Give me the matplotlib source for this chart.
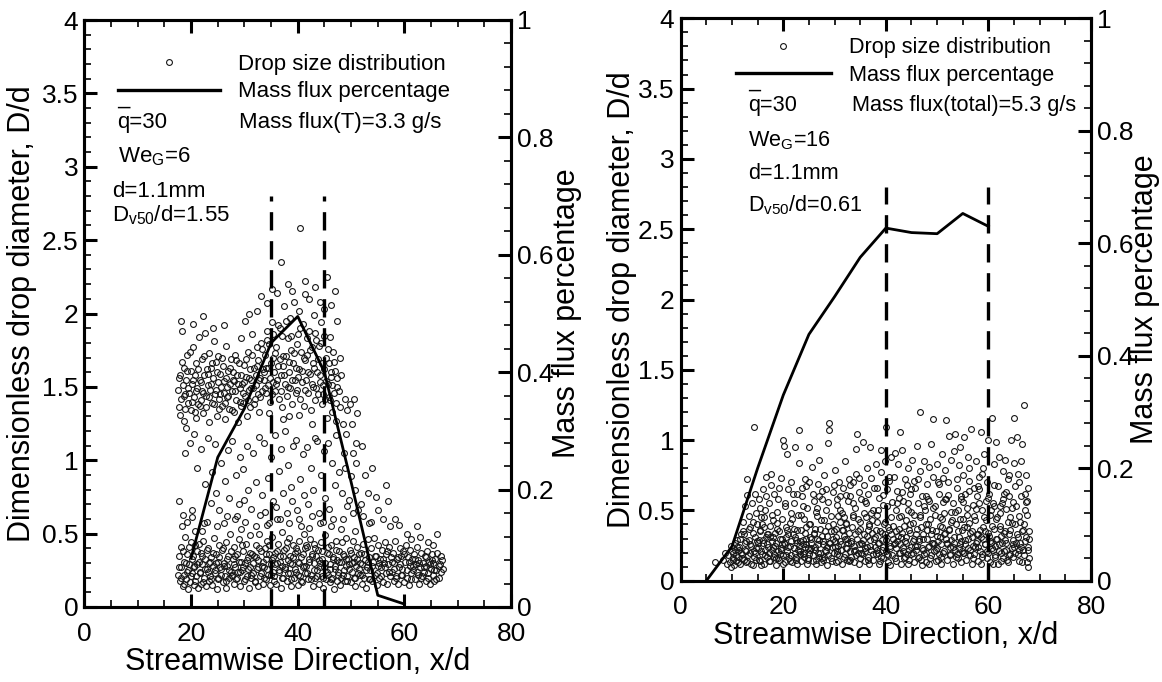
import numpy as np
import matplotlib.pyplot as plt
from matplotlib.lines import Line2D
from matplotlib.ticker import MultipleLocator, FuncFormatter
from matplotlib.transforms import blended_transform_factory

plt.rcParams['font.family'] = ['Liberation Sans', 'DejaVu Sans']
plt.rcParams['mathtext.fontset'] = 'custom'
plt.rcParams['mathtext.rm'] = 'Liberation Sans'
plt.rcParams['mathtext.it'] = 'Liberation Sans'
plt.rcParams['mathtext.bf'] = 'Liberation Sans:bold'

# Mass flux percentage (right axis)
left_flux_x = [20, 25, 30, 35, 40, 45, 50, 55, 60]
left_flux_p = [0.083, 0.255, 0.338, 0.45, 0.495, 0.40, 0.213, 0.02, 0.005]
right_flux_x = [5, 10, 15, 20, 25, 30, 35, 40, 45, 50, 55, 60]
right_flux_p = [0.0, 0.061, 0.20, 0.33, 0.438, 0.505, 0.575, 0.627, 0.619, 0.617, 0.653, 0.63]

# dashed markers of the measurement window
left_dash_x = [35, 45]
right_dash_x = [40, 60]
dash_top = 2.8

left_info = ['q=30', 'We$_{\\mathrm{G}}$=6', 'd=1.1mm', 'D$_{\\mathrm{v50}}$/d=1.55']
right_info = ['q=30', 'We$_{\\mathrm{G}}$=16', 'd=1.1mm', 'D$_{\\mathrm{v50}}$/d=0.61']
left_total = 'Mass flux(T)=3.3 g/s'
right_total = 'Mass flux(total)=5.3 g/s'
legend_labels = ['Drop size distribution', 'Mass flux percentage']

# Drop size distribution (x/d, D/d)
left_drops = [
    (17.6,1.48),(17.8,1.36),(18.0,1.58),(18.1,1.42),(18.3,1.88),(18.4,1.51),(18.6,1.27),(18.7,1.63),(18.9,1.45),(19.1,1.55),(19.2,1.72),(19.4,1.39),(18.2,1.95),(19.0,1.22),
    (17.7,0.72),(18.5,0.63),(19.3,0.58),(18.8,1.05),
    (17.6,0.22),(17.8,0.35),(17.9,0.18),(18.1,0.41),(18.2,0.27),(18.4,0.14),(18.6,0.31),(18.7,0.22),(18.9,0.48),(19.0,0.19),(19.2,0.36),(19.4,0.25),(19.5,0.12),(18.3,0.55),
    (19.7,1.46),(19.9,1.61),(20.0,1.34),(20.2,1.52),(20.4,1.77),(20.5,1.43),(20.7,1.58),(20.9,1.29),(21.0,1.66),(21.2,1.49),(21.4,1.84),(20.3,1.93),(21.3,1.38),
    (19.8,1.12),(20.6,1.18),(21.1,0.95),(20.1,0.66),
    (19.6,0.29),(19.8,0.17),(20.0,0.44),(20.1,0.23),(20.3,0.35),(20.5,0.15),(20.6,0.28),(20.8,0.52),(21.0,0.21),(21.1,0.38),(21.3,0.13),(21.4,0.31),(20.7,0.42),(20.2,0.61),
    (21.6,1.55),(21.8,1.41),(22.0,1.69),(22.1,1.47),(22.3,1.32),(22.5,1.58),(22.6,1.87),(22.8,1.44),(23.0,1.62),(23.1,1.51),(23.3,1.26),(23.4,1.73),(22.2,1.98),
    (21.9,1.08),(22.7,0.84),(23.2,1.15),(22.4,0.57),
    (21.6,0.24),(21.8,0.37),(21.9,0.16),(22.1,0.29),(22.3,0.45),(22.4,0.20),(22.6,0.33),(22.8,0.14),(22.9,0.26),(23.1,0.40),(23.3,0.18),(23.4,0.30),(22.0,0.52),(23.0,0.58),
    (23.6,1.48),(23.8,1.63),(24.0,1.39),(24.1,1.56),(24.3,1.81),(24.5,1.45),(24.6,1.67),(24.8,1.30),(25.0,1.53),(25.1,1.71),(25.3,1.42),(25.4,1.59),(24.2,1.90),
    (23.9,0.92),(24.7,0.78),(25.2,0.66),(24.4,1.11),(23.7,0.71),
    (23.6,0.21),(23.8,0.34),(24.0,0.15),(24.1,0.28),(24.3,0.47),(24.5,0.23),(24.6,0.36),(24.8,0.12),(25.0,0.31),(25.1,0.19),(25.3,0.42),(25.4,0.27),(24.9,0.55),
    (25.6,1.50),(25.8,1.37),(26.0,1.64),(26.1,1.46),(26.3,1.28),(26.5,1.56),(26.6,1.78),(26.8,1.43),(27.0,1.61),(27.1,1.35),(27.3,1.52),(27.4,1.69),(26.2,1.92),
    (25.7,0.98),(26.4,0.86),(26.9,1.07),(27.2,0.74),(26.7,0.62),
    (25.6,0.26),(25.8,0.39),(25.9,0.17),(26.1,0.30),(26.3,0.21),(26.5,0.44),(26.6,0.13),(26.8,0.28),(27.0,0.35),(27.1,0.20),(27.3,0.50),(27.4,0.24),(26.2,0.57),
    (27.6,1.47),(27.8,1.60),(28.0,1.33),(28.1,1.54),(28.3,1.72),(28.5,1.41),(28.6,1.58),(28.8,1.26),(29.0,1.66),(29.1,1.49),(29.3,1.83),(29.4,1.37),
    (27.7,1.13),(28.4,0.90),(28.9,0.70),(29.2,1.02),(28.2,0.60),
    (27.6,0.22),(27.8,0.33),(28.0,0.16),(28.1,0.41),(28.3,0.27),(28.5,0.19),(28.6,0.36),(28.8,0.24),(29.0,0.46),(29.1,0.14),(29.3,0.31),(29.4,0.53),(28.7,0.62),
    (29.6,1.52),(29.8,1.39),(30.0,1.65),(30.1,1.44),(30.3,1.57),(30.5,1.30),(30.6,1.74),(30.8,1.48),(31.0,1.62),(31.1,1.36),(31.3,1.55),(31.4,1.86),(30.2,1.95),(30.9,2.00),
    (29.7,0.94),(30.4,1.10),(30.7,0.80),(31.2,0.67),(29.9,0.73),
    (29.6,0.25),(29.8,0.38),(30.0,0.18),(30.1,0.30),(30.3,0.43),(30.5,0.21),(30.6,0.34),(30.8,0.13),(31.0,0.27),(31.1,0.49),(31.3,0.20),(31.4,0.36),(30.2,0.58),
    (31.6,1.49),(31.8,1.63),(32.0,1.42),(32.1,1.58),(32.3,1.77),(32.5,1.45),(32.6,1.68),(32.8,1.33),(33.0,1.56),(33.1,1.80),(33.3,1.47),(33.4,1.62),(32.4,2.02),(33.2,2.12),
    (31.7,1.05),(32.2,0.85),(32.7,1.16),(33.3,0.76),(32.9,0.63),
    (31.6,0.23),(31.8,0.35),(32.0,0.17),(32.1,0.42),(32.3,0.26),(32.5,0.14),(32.6,0.32),(32.8,0.50),(33.0,0.21),(33.1,0.38),(33.3,0.28),(33.4,0.16),(32.2,0.55),
    (33.6,1.55),(33.8,1.72),(34.0,1.46),(34.1,1.63),(34.3,1.88),(34.5,1.51),(34.6,1.79),(34.8,1.40),(35.0,1.66),(35.1,1.94),(35.3,1.53),(35.4,1.70),(34.2,2.07),(35.2,2.17),(34.7,1.32),
    (33.7,1.12),(34.4,0.88),(34.9,1.02),(35.3,0.72),(33.9,0.65),(34.7,0.57),
    (33.6,0.27),(33.8,0.40),(34.0,0.19),(34.1,0.33),(34.3,0.45),(34.5,0.22),(34.6,0.36),(34.8,0.15),(35.0,0.29),(35.1,0.48),(35.3,0.24),(35.4,0.34),(34.2,0.56),
    (35.6,1.60),(35.8,1.47),(36.0,1.77),(36.1,1.55),(36.3,1.92),(36.5,1.42),(36.6,1.69),(36.8,1.58),(37.0,1.85),(37.1,1.36),(37.3,1.64),(37.4,2.05),(36.2,2.14),(36.9,2.35),(37.2,1.28),
    (35.7,1.17),(36.4,0.93),(36.9,1.08),(37.2,0.78),(35.9,0.68),(36.7,0.60),
    (35.6,0.21),(35.8,0.37),(36.0,0.16),(36.1,0.30),(36.3,0.43),(36.5,0.25),(36.6,0.35),(36.8,0.13),(37.0,0.28),(37.1,0.51),(37.3,0.20),(37.4,0.39),(36.2,0.60),
    (37.6,1.52),(37.8,1.71),(38.0,1.44),(38.1,1.83),(38.3,1.60),(38.5,1.97),(38.6,1.49),(38.8,1.75),(39.0,1.38),(39.1,1.66),(39.3,2.08),(39.4,1.55),(38.2,2.20),(38.9,2.15),(38.4,1.30),
    (37.7,1.20),(38.2,0.97),(38.7,0.82),(39.2,1.10),(37.9,0.64),(39.0,0.72),
    (37.6,0.26),(37.8,0.40),(38.0,0.18),(38.1,0.32),(38.3,0.47),(38.5,0.23),(38.6,0.35),(38.8,0.14),(39.0,0.29),(39.1,0.42),(39.3,0.20),(39.4,0.37),(38.4,0.57),
    (39.6,1.63),(39.8,1.48),(40.0,1.86),(40.1,1.57),(40.3,2.02),(40.5,1.42),(40.6,1.74),(40.8,1.61),(41.0,1.93),(41.1,1.37),(41.3,1.68),(41.4,2.13),(40.5,2.58),(41.3,2.22),(40.2,1.31),
    (39.7,1.14),(40.4,0.87),(40.9,1.04),(41.2,0.76),(39.9,0.66),(40.7,0.55),
    (39.6,0.24),(39.8,0.38),(40.0,0.15),(40.1,0.31),(40.3,0.45),(40.5,0.21),(40.6,0.34),(40.8,0.17),(41.0,0.27),(41.1,0.50),(41.3,0.23),(41.4,0.40),(40.2,0.60),
    (41.6,1.55),(41.8,1.72),(42.0,1.46),(42.1,1.88),(42.3,1.59),(42.5,1.34),(42.6,1.77),(42.8,1.50),(43.0,1.99),(43.1,1.63),(43.3,1.41),(43.4,1.82),(42.2,2.10),(43.2,2.18),(42.7,1.25),
    (41.7,1.09),(42.4,0.95),(42.9,0.80),(43.3,1.15),(41.9,0.70),(42.6,0.62),
    (41.6,0.28),(41.8,0.41),(42.0,0.19),(42.1,0.33),(42.3,0.46),(42.5,0.22),(42.6,0.36),(42.8,0.14),(43.0,0.30),(43.1,0.43),(43.3,0.20),(43.4,0.35),(42.2,0.54),
    (43.6,1.60),(43.8,1.45),(44.0,1.78),(44.1,1.53),(44.3,1.94),(44.5,1.38),(44.6,1.66),(44.8,1.51),(45.0,1.85),(45.1,1.42),(45.3,1.70),(45.4,1.29),(44.2,2.08),(45.5,2.25),(44.9,2.03),
    (43.7,1.13),(44.4,0.90),(44.9,1.06),(45.2,0.74),(43.9,0.64),(44.7,0.58),
    (43.6,0.25),(43.8,0.39),(44.0,0.16),(44.1,0.30),(44.3,0.44),(44.5,0.21),(44.6,0.33),(44.8,0.13),(45.0,0.27),(45.1,0.49),(45.3,0.19),(45.4,0.37),(44.2,0.57),
    (45.6,1.52),(45.8,1.66),(46.0,1.41),(46.1,1.84),(46.3,1.57),(46.5,1.33),(46.6,1.74),(46.8,1.46),(47.0,1.61),(47.1,1.27),(47.3,1.50),(47.4,1.95),(46.2,2.06),(46.9,2.15),
    (45.7,1.12),(46.4,0.98),(46.9,0.83),(47.2,1.17),(45.9,0.67),(46.7,0.60),
    (45.6,0.22),(45.8,0.36),(46.0,0.17),(46.1,0.29),(46.3,0.42),(46.5,0.20),(46.6,0.34),(46.8,0.12),(47.0,0.26),(47.1,0.45),(47.3,0.18),(47.4,0.32),(46.2,0.55),
    (47.7,1.47),(47.9,1.36),(48.2,1.58),(48.5,1.25),(48.8,1.42),(49.1,1.18),(49.3,1.34),(48.0,1.70),(48.6,1.05),
    (47.8,0.92),(48.3,0.78),(48.9,0.95),(49.2,0.69),(48.4,0.60),
    (47.6,0.24),(47.8,0.38),(48.0,0.15),(48.1,0.31),(48.3,0.44),(48.5,0.22),(48.6,0.35),(48.8,0.18),(49.0,0.28),(49.1,0.47),(49.3,0.21),(49.4,0.33),(48.2,0.53),
    (49.8,1.38),(50.2,1.25),(50.5,1.42),(50.9,1.12),(51.2,1.32),(50.4,1.05),(51.0,0.98),(50.0,0.89),
    (49.7,0.73),(50.3,0.64),(50.8,0.80),(51.3,0.66),
    (49.6,0.26),(49.8,0.39),(50.0,0.17),(50.1,0.30),(50.3,0.45),(50.5,0.20),(50.6,0.34),(50.8,0.14),(51.0,0.28),(51.1,0.41),(51.3,0.23),(51.4,0.36),(50.7,0.52),
    (52.0,1.10),(52.6,0.90),(53.1,0.78),(52.3,0.62),(51.8,0.70),(53.3,0.57),
    (51.6,0.22),(51.8,0.37),(52.0,0.16),(52.1,0.29),(52.3,0.43),(52.5,0.20),(52.6,0.32),(52.8,0.13),(53.0,0.27),(53.1,0.46),(53.3,0.19),(53.4,0.34),
    (54.0,0.95),(54.6,0.75),(55.1,0.66),(53.8,0.58),
    (53.6,0.25),(53.8,0.40),(54.0,0.18),(54.1,0.31),(54.3,0.47),(54.5,0.22),(54.6,0.35),(54.8,0.15),(55.0,0.28),(55.1,0.42),(55.3,0.20),(55.4,0.33),
    (56.5,0.83),(57.0,0.72),(56.0,0.60),(57.3,0.55),
    (55.6,0.27),(55.8,0.39),(56.0,0.17),(56.1,0.30),(56.3,0.44),(56.5,0.23),(56.6,0.36),(56.8,0.16),(57.0,0.29),(57.1,0.41),(57.3,0.21),(57.4,0.34),
    (58.2,0.60),(59.0,0.56),
    (57.6,0.24),(57.8,0.37),(58.0,0.18),(58.1,0.30),(58.3,0.45),(58.5,0.21),(58.6,0.33),(58.8,0.16),(59.0,0.27),(59.1,0.40),(59.3,0.22),(59.4,0.35),
    (60.5,0.50),(61.2,0.46),
    (59.6,0.26),(59.8,0.38),(60.0,0.17),(60.1,0.31),(60.3,0.42),(60.5,0.20),(60.6,0.34),(60.8,0.15),(61.0,0.28),(61.1,0.39),(61.3,0.23),(61.4,0.33),
    (62.4,0.55),(63.0,0.48),
    (61.6,0.25),(61.8,0.36),(62.0,0.19),(62.1,0.29),(62.3,0.41),(62.5,0.22),(62.6,0.32),(62.8,0.16),(63.0,0.27),(63.1,0.37),(63.3,0.21),(63.4,0.30),
    (64.5,0.44),(66.2,0.50),(65.3,0.42),
    (63.6,0.24),(63.8,0.35),(64.0,0.18),(64.1,0.28),(64.3,0.38),(64.5,0.20),(64.6,0.31),(64.8,0.16),(65.0,0.26),(65.1,0.36),(65.3,0.22),(65.4,0.30),
    (65.6,0.18),(65.8,0.33),(66.0,0.25),(66.2,0.37),(66.4,0.20),(66.6,0.29),(66.8,0.24),(67.0,0.32),
]

# extra drops in the dense upper and lower bands of the left panel
left_drops_dense = [
    (17.7,1.56),(18.0,1.31),(18.3,1.67),(18.6,1.44),(18.9,1.35),(19.2,1.61),(19.5,1.49),(19.8,1.74),(20.1,1.40),(20.4,1.55),
    (20.7,1.33),(21.0,1.47),(21.3,1.62),(21.6,1.37),(21.9,1.53),(22.2,1.46),(22.5,1.71),(22.8,1.36),(23.1,1.59),(23.4,1.43),
    (23.7,1.52),(24.0,1.66),(24.3,1.38),(24.6,1.48),(24.9,1.60),(25.2,1.35),(25.5,1.45),(25.8,1.70),(26.1,1.54),(26.4,1.39),
    (26.7,1.50),(27.0,1.44),(27.3,1.63),(27.6,1.34),(27.9,1.55),(28.2,1.47),(28.5,1.68),(28.8,1.52),(29.1,1.40),(29.4,1.58),
    (29.7,1.46),(30.0,1.53),(30.3,1.69),(30.6,1.41),(30.9,1.56),(31.2,1.49),(31.5,1.72),(31.8,1.38),(32.1,1.51),(32.4,1.64),
    (32.7,1.55),(33.0,1.43),(33.3,1.76),(33.6,1.60),(33.9,1.49),(34.2,1.82),(34.5,1.63),(34.8,1.56),(35.1,1.45),(35.4,1.86),
    (35.7,1.73),(36.0,1.52),(36.3,1.64),(36.6,1.90),(36.9,1.47),(37.2,1.71),(37.5,1.58),(37.8,1.95),(38.1,1.50),(38.4,1.67),
    (38.7,1.85),(39.0,1.55),(39.3,1.73),(39.6,1.46),(39.9,1.79),(40.2,1.62),(40.5,1.90),(40.8,1.53),(41.1,1.70),(41.4,1.48),
    (41.7,1.83),(42.0,1.60),(42.3,1.75),(42.6,1.52),(42.9,1.66),(43.2,1.87),(43.5,1.49),(43.8,1.69),(44.1,1.58),(44.4,1.80),
    (44.7,1.45),(45.0,1.62),(45.3,1.54),(45.6,1.76),(45.9,1.43),(46.2,1.60),(46.5,1.51),(46.8,1.67),(47.1,1.39),(47.4,1.56),
    (17.8,0.27),(18.1,0.20),(18.4,0.38),(18.7,0.16),(19.0,0.30),(19.3,0.24),(19.6,0.41),(19.9,0.21),(20.2,0.33),(20.5,0.27),
    (20.8,0.18),(21.1,0.29),(21.4,0.43),(21.7,0.23),(22.0,0.35),(22.3,0.17),(22.6,0.26),(22.9,0.39),(23.2,0.24),(23.5,0.31),
    (23.8,0.19),(24.1,0.37),(24.4,0.25),(24.7,0.30),(25.0,0.20),(25.3,0.34),(25.6,0.22),(25.9,0.40),(26.2,0.28),(26.5,0.18),
    (26.8,0.33),(27.1,0.25),(27.4,0.38),(27.7,0.21),(28.0,0.29),(28.3,0.35),(28.6,0.20),(28.9,0.31),(29.2,0.24),(29.5,0.42),
    (29.8,0.27),(30.1,0.19),(30.4,0.32),(30.7,0.26),(31.0,0.37),(31.3,0.22),(31.6,0.30),(31.9,0.18),(32.2,0.34),(32.5,0.27),
    (32.8,0.40),(33.1,0.23),(33.4,0.31),(33.7,0.20),(34.0,0.36),(34.3,0.26),(34.6,0.42),(34.9,0.22),(35.2,0.32),(35.5,0.18),
    (35.8,0.29),(36.1,0.38),(36.4,0.24),(36.7,0.31),(37.0,0.20),(37.3,0.35),(37.6,0.27),(37.9,0.44),(38.2,0.23),(38.5,0.30),
    (38.8,0.19),(39.1,0.34),(39.4,0.26),(39.7,0.40),(40.0,0.22),(40.3,0.30),(40.6,0.18),(40.9,0.36),(41.2,0.28),(41.5,0.42),
    (41.8,0.23),(42.1,0.31),(42.4,0.19),(42.7,0.35),(43.0,0.25),(43.3,0.40),(43.6,0.21),(43.9,0.32),(44.2,0.27),(44.5,0.38),
    (44.8,0.20),(45.1,0.30),(45.4,0.24),(45.7,0.41),(46.0,0.26),(46.3,0.19),(46.6,0.33),(46.9,0.28),(47.2,0.39),(47.5,0.22),
    (47.8,0.31),(48.1,0.20),(48.4,0.36),(48.7,0.25),(49.0,0.33),(49.3,0.18),(49.6,0.29),(49.9,0.37),(50.2,0.24),(50.5,0.31),
    (50.8,0.20),(51.1,0.33),(51.4,0.26),(51.7,0.30),(52.0,0.22),(52.4,0.36),(52.8,0.25),(53.2,0.31),(53.6,0.19),(54.0,0.28),
    (54.4,0.35),(54.8,0.23),(55.2,0.30),(55.6,0.21),(56.0,0.33),(56.4,0.27),(56.8,0.38),(57.2,0.24),(57.6,0.31),(58.0,0.26),
    (58.4,0.20),(58.8,0.34),(59.2,0.29),(59.6,0.22),(60.0,0.36),(60.4,0.25),(60.8,0.31),(61.2,0.19),(61.6,0.28),(62.0,0.33),
    (62.4,0.24),(62.8,0.30),(63.2,0.20),(63.6,0.27),(64.0,0.34),(64.4,0.23),(64.8,0.29),(65.2,0.32),(65.6,0.25),(66.0,0.19),
    (66.4,0.28),(66.8,0.35),(67.2,0.26),
]

right_drops = [
    (6.6,0.13),(8.7,0.20),(8.2,0.15),(9.0,0.12),
    (9.3,0.18),(9.6,0.13),(9.8,0.25),(10.1,0.16),(10.3,0.11),(10.5,0.22),(10.8,0.14),(10.2,0.20),(10.9,0.29),(9.9,0.10),
    (11.1,0.17),(11.3,0.24),(11.5,0.12),(11.7,0.33),(11.9,0.19),(12.1,0.42),(12.3,0.15),(12.5,0.53),(12.6,0.27),(12.8,0.13),(12.9,0.61),(11.4,0.22),(12.2,0.35),(12.7,0.21),
    (13.0,0.72),(13.2,0.18),(13.4,0.46),(13.5,0.26),(13.7,0.12),(13.9,0.55),(14.0,0.34),(14.2,0.21),(14.3,1.09),(14.4,0.62),(14.6,0.15),(14.8,0.40),(14.9,0.28),(13.6,0.38),(14.1,0.11),(14.7,0.48),(13.3,0.29),(14.5,0.20),
    (15.1,0.23),(15.2,0.58),(15.4,0.14),(15.5,0.36),(15.7,0.45),(15.8,0.19),(16.0,0.65),(16.1,0.27),(16.3,0.12),(16.4,0.50),(16.6,0.31),(16.7,0.74),(16.9,0.17),(15.3,0.29),(15.9,0.40),(16.5,0.22),(16.2,0.38),(16.8,0.26),(15.6,0.11),
    (17.0,0.33),(17.2,0.20),(17.3,0.55),(17.5,0.14),(17.6,0.76),(17.8,0.28),(17.9,0.43),(18.1,0.17),(18.2,0.62),(18.4,0.25),(18.5,0.11),(18.7,0.37),(18.8,0.49),(18.9,0.21),(17.4,0.31),(18.0,0.24),(18.6,0.16),(17.7,0.68),(18.3,0.34),
    (19.0,0.58),(19.2,0.15),(19.3,0.30),(19.5,0.73),(19.6,0.22),(19.8,0.44),(19.9,0.12),(20.0,1.00),(20.1,0.96),(20.2,0.27),(20.4,0.53),(20.5,0.18),(20.7,0.36),(20.8,0.90),(20.9,0.24),(19.4,0.19),(20.3,0.13),(20.6,0.31),(19.7,0.26),(21.0,0.65),
    (21.1,0.16),(21.3,0.41),(21.4,0.25),(21.6,0.70),(21.7,0.13),(21.9,0.33),(22.0,0.55),(22.2,0.20),(22.3,0.95),(22.5,0.29),(22.6,0.12),(22.8,0.47),(22.9,0.22),(21.5,0.18),(22.1,0.37),(22.7,0.27),(21.8,0.62),(22.4,0.15),(23.0,0.84),
    (23.1,1.07),(23.2,0.21),(23.4,0.36),(23.5,0.14),(23.7,0.60),(23.8,0.26),(24.0,0.44),(24.1,0.17),(24.3,0.72),(24.4,0.30),(24.6,0.12),(24.7,0.52),(24.9,0.23),(25.0,0.95),(23.3,0.28),(23.9,0.19),(24.5,0.38),(24.8,0.16),(23.6,0.66),(24.2,0.24),
    (25.1,0.19),(25.3,0.40),(25.4,0.27),(25.6,0.81),(25.7,0.14),(25.9,0.34),(26.0,0.57),(26.2,0.22),(26.3,0.12),(26.5,0.46),(26.6,0.30),(26.8,0.69),(26.9,0.17),(25.5,0.23),(26.1,0.37),(26.7,0.26),(25.8,0.62),(26.4,0.15),(27.0,0.86),(25.2,0.31),
    (27.1,0.20),(27.3,0.43),(27.4,0.13),(27.6,0.58),(27.7,0.28),(27.9,0.75),(28.0,0.17),(28.2,0.35),(28.3,0.50),(28.5,0.24),(28.6,0.11),(28.8,0.98),(28.9,1.12),(29.0,1.07),(27.5,0.32),(28.1,0.22),(28.7,0.39),(27.8,0.15),(28.4,0.65),(29.2,0.27),
    (29.3,0.46),(29.4,0.16),(29.6,0.63),(29.7,0.30),(29.9,0.20),(30.0,0.79),(30.2,0.37),(30.3,0.13),(30.5,0.54),(30.6,0.25),(30.8,0.70),(30.9,0.18),(31.0,0.42),(29.5,0.24),(30.1,0.28),(30.7,0.14),(29.8,0.35),(30.4,0.21),(31.1,0.60),
    (31.2,0.26),(31.4,0.48),(31.5,0.12),(31.7,0.66),(31.8,0.32),(32.0,0.19),(32.1,0.85),(32.3,0.40),(32.4,0.15),(32.6,0.57),(32.7,0.27),(32.9,0.72),(33.0,0.21),(31.6,0.36),(32.2,0.23),(32.8,0.14),(31.9,0.45),(32.5,0.30),(33.1,0.60),
    (33.2,0.17),(33.4,0.38),(33.5,0.70),(33.7,0.25),(33.8,0.13),(34.0,0.52),(34.1,0.94),(34.3,1.04),(34.4,0.30),(34.6,0.20),(34.7,0.63),(34.9,0.42),(35.0,0.16),(33.3,0.28),(33.9,0.22),(34.5,0.35),(34.8,0.12),(33.6,0.47),(34.2,0.76),(35.1,0.27),
    (35.2,0.58),(35.4,0.19),(35.5,0.99),(35.7,0.33),(35.8,0.68),(36.0,0.14),(36.1,0.45),(36.3,0.24),(36.4,0.80),(36.6,0.36),(36.7,0.12),(36.9,0.95),(37.0,0.29),(35.3,0.26),(35.9,0.21),(36.5,0.17),(36.2,0.55),(36.8,0.40),(37.1,0.73),
    (37.2,0.22),(37.4,0.50),(37.5,0.15),(37.7,0.66),(37.8,0.31),(38.0,0.83),(38.1,0.19),(38.3,0.42),(38.4,0.27),(38.6,0.12),(38.7,0.59),(38.9,0.35),(39.0,0.77),(37.3,0.34),(37.9,0.24),(38.5,0.20),(38.2,0.47),(38.8,0.14),(39.1,0.93),
    (39.2,0.29),(39.4,0.16),(39.5,0.61),(39.7,0.40),(39.8,0.85),(40.0,1.09),(40.1,0.21),(40.3,0.53),(40.4,0.13),(40.6,0.36),(40.7,0.71),(40.9,0.25),(41.0,0.45),(39.3,0.22),(39.9,0.33),(40.5,0.18),(40.2,0.65),(40.8,0.11),(41.1,0.88),
    (41.2,0.18),(41.4,0.39),(41.5,0.74),(41.7,0.27),(41.8,0.91),(42.0,0.14),(42.1,0.55),(42.3,0.32),(42.4,0.83),(42.6,0.20),(42.7,1.06),(42.9,0.46),(43.0,0.12),(41.3,0.30),(41.9,0.23),(42.5,0.37),(42.2,0.64),(42.8,0.26),(43.1,0.93),
    (43.2,0.34),(43.4,0.57),(43.5,0.16),(43.7,0.72),(43.8,0.28),(44.0,0.43),(44.1,0.19),(44.3,0.80),(44.4,0.12),(44.6,0.36),(44.7,0.62),(44.9,0.24),(45.0,0.49),(43.3,0.21),(43.9,0.31),(44.5,0.15),(44.2,0.68),(44.8,0.40),(45.1,0.86),
    (45.2,0.20),(45.4,0.47),(45.5,0.13),(45.7,0.66),(45.8,0.33),(46.0,0.96),(46.1,0.25),(46.3,0.55),(46.4,0.17),(46.6,0.78),(46.7,1.20),(46.9,0.38),(47.0,0.11),(45.3,0.28),(45.9,0.22),(46.5,0.30),(46.2,0.72),(46.8,0.15),(47.1,0.60),
    (47.2,0.30),(47.4,0.85),(47.5,0.19),(47.7,0.50),(47.8,0.13),(48.0,0.69),(48.1,0.36),(48.3,0.24),(48.4,0.81),(48.6,0.44),(48.7,0.16),(48.9,0.97),(49.0,0.27),(47.3,0.22),(47.9,0.40),(48.5,0.12),(48.2,0.58),(48.8,0.33),(49.1,0.74),
    (49.2,1.15),(49.4,0.21),(49.5,0.53),(49.7,0.35),(49.8,0.14),(50.0,0.83),(50.1,0.28),(50.3,0.62),(50.4,0.19),(50.6,0.45),(50.7,0.12),(50.9,0.90),(51.0,0.38),(49.3,0.26),(49.9,0.23),(50.5,0.31),(50.2,0.70),(50.8,0.17),(51.1,0.56),
    (51.2,0.20),(51.4,0.48),(51.5,0.79),(51.7,0.30),(51.8,1.14),(52.0,0.15),(52.1,0.61),(52.3,0.37),(52.4,1.03),(52.6,0.24),(52.7,0.86),(52.9,0.43),(53.0,0.12),(51.3,0.33),(51.9,0.26),(52.5,0.18),(52.2,0.70),(52.8,0.29),(53.1,0.55),
    (53.2,0.92),(53.4,0.22),(53.5,1.04),(53.7,0.40),(53.8,0.66),(54.0,0.16),(54.1,0.50),(54.3,0.31),(54.4,0.95),(54.6,0.13),(54.7,0.58),(54.9,0.36),(55.0,0.75),(53.3,0.27),(53.9,0.19),(54.5,0.26),(54.2,0.82),(54.8,0.21),(55.1,0.44),
    (55.2,1.02),(55.4,0.29),(55.5,0.62),(55.7,0.15),(55.8,0.47),(56.0,0.88),(56.1,0.23),(56.3,0.71),(56.4,0.34),(56.6,1.08),(56.7,0.12),(56.9,0.54),(57.0,0.25),(55.3,0.20),(55.9,0.38),(56.5,0.18),(56.2,0.80),(56.8,0.31),(57.1,0.66),
    (57.2,0.19),(57.4,0.43),(57.5,0.85),(57.7,0.28),(57.8,0.60),(58.0,0.14),(58.1,0.74),(58.3,0.36),(58.4,0.21),(58.6,1.06),(58.7,0.50),(58.9,0.30),(59.0,0.80),(57.3,0.24),(57.9,0.33),(58.5,0.12),(58.2,0.65),(58.8,0.17),(59.1,0.45),
    (59.2,0.90),(59.4,0.26),(59.5,0.57),(59.7,0.16),(59.8,0.70),(60.0,1.00),(60.1,0.32),(60.3,0.47),(60.4,0.13),(60.6,1.16),(60.7,0.39),(60.9,0.22),(61.0,0.83),(59.3,0.35),(59.9,0.20),(60.5,0.27),(60.2,0.62),(60.8,0.12),(61.1,0.53),
    (61.2,0.18),(61.4,0.44),(61.5,0.99),(61.7,0.30),(61.8,0.67),(62.0,0.21),(62.1,0.88),(62.3,0.37),(62.4,0.14),(62.6,0.55),(62.7,0.27),(62.9,0.78),(63.0,0.34),(61.3,0.25),(61.9,0.12),(62.5,0.20),(62.2,0.48),(62.8,0.16),(63.1,0.62),
    (63.2,0.86),(63.4,0.22),(63.5,0.51),(63.7,0.15),(63.8,0.72),(64.0,0.33),(64.1,0.60),(64.3,0.19),(64.4,1.00),(64.6,0.41),(64.7,0.26),(64.9,0.84),(65.0,1.16),(63.3,0.29),(63.9,0.13),(64.5,0.23),(64.2,0.45),(64.8,0.17),(65.1,0.67),
    (65.2,0.20),(65.4,0.53),(65.5,1.02),(65.7,0.31),(65.8,0.76),(66.0,0.14),(66.1,0.42),(66.3,0.85),(66.4,0.24),(66.6,0.97),(66.7,0.36),(66.9,0.18),(67.0,1.25),(67.1,0.62),(67.2,0.28),(67.4,0.75),(67.5,0.13),(67.6,0.47),(67.8,0.22),(67.9,0.35),(68.0,0.16),(65.3,0.27),(65.9,0.22),(66.5,0.13),(67.3,0.56),(67.7,0.10),
]

# extra drops in the dense lower band of the right panel
right_drops_dense = [
    (10.0,0.21),(10.25,0.15),(10.5,0.27),(10.75,0.18),(11.0,0.24),(11.25,0.13),(11.5,0.30),(11.75,0.20),
    (12.0,0.16),(12.25,0.33),(12.5,0.22),(12.75,0.28),(13.0,0.14),(13.25,0.37),(13.5,0.20),(13.75,0.25),
    (14.0,0.42),(14.25,0.17),(14.5,0.31),(14.75,0.23),(15.0,0.27),(15.25,0.15),(15.5,0.35),(15.75,0.21),
    (16.0,0.29),(16.25,0.45),(16.5,0.18),(16.75,0.33),(17.0,0.24),(17.25,0.14),(17.5,0.39),(17.75,0.22),
    (18.0,0.31),(18.25,0.19),(18.5,0.27),(18.75,0.41),(19.0,0.16),(19.25,0.35),(19.5,0.23),(19.75,0.30),
    (20.0,0.18),(20.25,0.26),(20.5,0.38),(20.75,0.21),(21.0,0.33),(21.25,0.14),(21.5,0.28),(21.75,0.44),
    (22.0,0.23),(22.25,0.31),(22.5,0.17),(22.75,0.36),(23.0,0.25),(23.25,0.19),(23.5,0.47),(23.75,0.29),
    (24.0,0.20),(24.25,0.34),(24.5,0.26),(24.75,0.15),(25.0,0.40),(25.25,0.22),(25.5,0.30),(25.75,0.18),
    (26.0,0.33),(26.25,0.24),(26.5,0.52),(26.75,0.20),(27.0,0.29),(27.25,0.37),(27.5,0.16),(27.75,0.26),
    (28.0,0.43),(28.25,0.21),(28.5,0.32),(28.75,0.18),(29.0,0.27),(29.25,0.35),(29.5,0.14),(29.75,0.40),
    (30.0,0.24),(30.25,0.31),(30.5,0.19),(30.75,0.46),(31.0,0.28),(31.25,0.22),(31.5,0.36),(31.75,0.17),
    (32.0,0.30),(32.25,0.41),(32.5,0.23),(32.75,0.34),(33.0,0.15),(33.25,0.27),(33.5,0.55),(33.75,0.21),
    (34.0,0.33),(34.25,0.18),(34.5,0.44),(34.75,0.26),(35.0,0.37),(35.25,0.20),(35.5,0.29),(35.75,0.48),
    (36.0,0.23),(36.25,0.32),(36.5,0.15),(36.75,0.39),(37.0,0.25),(37.25,0.43),(37.5,0.19),(37.75,0.30),
    (38.0,0.36),(38.25,0.22),(38.5,0.50),(38.75,0.27),(39.0,0.17),(39.25,0.34),(39.5,0.24),(39.75,0.42),
    (40.0,0.29),(40.25,0.19),(40.5,0.38),(40.75,0.23),(41.0,0.33),(41.25,0.56),(41.5,0.26),(41.75,0.16),
    (42.0,0.35),(42.25,0.28),(42.5,0.45),(42.75,0.20),(43.0,0.31),(43.25,0.24),(43.5,0.39),(43.75,0.17),
    (44.0,0.27),(44.25,0.50),(44.5,0.22),(44.75,0.34),(45.0,0.19),(45.25,0.41),(45.5,0.30),(45.75,0.25),
    (46.0,0.37),(46.25,0.16),(46.5,0.28),(46.75,0.45),(47.0,0.23),(47.25,0.33),(47.5,0.53),(47.75,0.20),
    (48.0,0.30),(48.25,0.40),(48.5,0.25),(48.75,0.18),(49.0,0.36),(49.25,0.27),(49.5,0.47),(49.75,0.22),
    (50.0,0.32),(50.25,0.15),(50.5,0.39),(50.75,0.26),(51.0,0.44),(51.25,0.21),(51.5,0.34),(51.75,0.58),
    (52.0,0.27),(52.25,0.36),(52.5,0.19),(52.75,0.42),(53.0,0.24),(53.25,0.31),(53.5,0.49),(53.75,0.17),
    (54.0,0.35),(54.25,0.23),(54.5,0.44),(54.75,0.28),(55.0,0.20),(55.25,0.38),(55.5,0.26),(55.75,0.52),
    (56.0,0.30),(56.25,0.41),(56.5,0.22),(56.75,0.35),(57.0,0.16),(57.25,0.46),(57.5,0.27),(57.75,0.33),
    (58.0,0.24),(58.25,0.55),(58.5,0.31),(58.75,0.19),(59.0,0.38),(59.25,0.26),(59.5,0.43),(59.75,0.21),
    (60.0,0.34),(60.25,0.28),(60.5,0.50),(60.75,0.23),(61.0,0.37),(61.25,0.17),(61.5,0.30),(61.75,0.45),
    (62.0,0.26),(62.25,0.39),(62.5,0.32),(62.75,0.58),(63.0,0.21),(63.25,0.35),(63.5,0.27),(63.75,0.42),
    (64.0,0.18),(64.25,0.36),(64.5,0.52),(64.75,0.29),(65.0,0.24),(65.25,0.40),(65.5,0.33),(65.75,0.19),
    (66.0,0.46),(66.25,0.27),(66.5,0.35),(66.75,0.22),(67.0,0.40),(67.25,0.31),(67.5,0.57),(67.75,0.24),(68.0,0.30),
    (15.4,0.52),(16.6,0.60),(17.8,0.47),(19.1,0.66),(20.3,0.55),(21.5,0.48),(22.7,0.62),(23.9,0.53),(25.1,0.70),(26.3,0.49),
    (27.5,0.64),(28.7,0.56),(29.9,0.68),(31.1,0.50),(32.3,0.61),(33.5,0.45),(34.7,0.73),(35.9,0.57),(37.1,0.48),(38.3,0.66),
    (39.5,0.54),(40.7,0.74),(41.9,0.50),(43.1,0.63),(44.3,0.55),(45.5,0.71),(46.7,0.47),(47.9,0.60),(49.1,0.52),(50.3,0.69),
    (51.5,0.58),(52.7,0.49),(53.9,0.72),(55.1,0.56),(56.3,0.64),(57.5,0.51),(58.7,0.76),(59.9,0.59),(61.1,0.68),(62.3,0.53),
    (63.5,0.63),(64.7,0.56),(65.9,0.70),(67.1,0.50),(67.8,0.66),(66.4,0.60),(64.1,0.75),(60.8,0.55),(57.9,0.67),(54.6,0.60),
    (51.2,0.73),(48.4,0.57),(45.0,0.65),(42.6,0.59),(39.9,0.70),(36.5,0.62),(33.0,0.68),(30.4,0.58),(27.0,0.60),(24.4,0.67),
]

W, H = 1162, 682
fig = plt.figure(figsize=(W / 100, H / 100), dpi=100)

MARK = dict(ls='none', marker='o', mfc='none', mec='#161616', ms=4.2, mew=0.8)


def fmt(v, pos):
    return '%g' % v


def draw_panel(box, drops, fx, fp, dash_x, info, info_pos, total, total_pos,
               leg_anchor, leg_len, leg_fs, ylab_x, yrlab_x, xlab_y):
    l, b, r, t = box
    ax = fig.add_axes([l / W, 1 - b / H, (r - l) / W, (b - t) / H])
    ax2 = ax.twinx()

    d = np.array(drops)
    ax.plot(d[:, 0], d[:, 1], **MARK)
    ax.vlines(dash_x, 0, dash_top, colors='k', lw=2.4, linestyles=(0, (5.5, 3.2)))
    ax2.plot(fx, fp, color='k', lw=2.0)

    ax.set_xlim(0, 80)
    ax.set_ylim(0, 4)
    ax2.set_ylim(0, 1)
    ax.xaxis.set_major_locator(MultipleLocator(20))
    ax.xaxis.set_minor_locator(MultipleLocator(5))
    ax.yaxis.set_major_locator(MultipleLocator(0.5))
    ax.yaxis.set_minor_locator(MultipleLocator(0.1))
    ax2.yaxis.set_major_locator(MultipleLocator(0.2))
    ax2.yaxis.set_minor_locator(MultipleLocator(0.04))
    for a in (ax, ax2):
        a.yaxis.set_major_formatter(FuncFormatter(fmt))
        a.tick_params(which='both', direction='in', labelsize=19, width=2.2)
        a.tick_params(which='major', length=9.5)
        a.tick_params(which='minor', length=5, width=1.2)
        for s in a.spines.values():
            s.set_linewidth(2.2)
    ax.xaxis.set_major_formatter(FuncFormatter(fmt))
    ax.tick_params(axis='x', which='both', top=True, pad=10.5)
    ax.tick_params(axis='y', which='both', right=False, pad=4.5)
    ax2.tick_params(axis='y', pad=4.5)

    ax.set_xlabel('Streamwise Direction, x/d', fontsize=22)
    ax.set_ylabel('Dimensionless drop diameter, D/d', fontsize=22)
    ax2.set_ylabel('Mass flux percentage', fontsize=22)
    ax.xaxis.set_label_coords(0.5, xlab_y, transform=blended_transform_factory(ax.transAxes, fig.transFigure))
    ax.xaxis.label.set_va('center')
    ax.yaxis.set_label_coords(ylab_x, 0.5, transform=blended_transform_factory(fig.transFigure, ax.transAxes))
    ax.yaxis.label.set_va('center')
    ax2.yaxis.set_label_coords(yrlab_x, 0.5, transform=blended_transform_factory(fig.transFigure, ax.transAxes))
    ax2.yaxis.label.set_va('center')

    handles = [Line2D([], [], **MARK), Line2D([], [], color='k', lw=2.4)]
    ax2.legend(handles, legend_labels, loc='upper left', bbox_to_anchor=leg_anchor,
               frameon=False, borderpad=0, borderaxespad=0, handlelength=leg_len,
               handletextpad=0.83, labelspacing=0.3, fontsize=leg_fs)

    for s, (x, y) in zip(info, info_pos):
        ax2.text(x, y, s, transform=ax.transAxes, fontsize=leg_fs, va='baseline')
    # bar over q
    ax2.annotate('\u00af', xy=info_pos[0], xycoords='axes fraction', xytext=(0, 3),
                 textcoords='offset points', fontsize=leg_fs, va='baseline')
    ax2.text(total_pos[0], total_pos[1], total, transform=ax.transAxes,
             fontsize=leg_fs, va='baseline')
    return ax, ax2


draw_panel((84.4, 607, 511.1, 20), left_drops + left_drops_dense,
           left_flux_x, left_flux_p, left_dash_x,
           left_info, [(0.0757, 0.8166), (0.0783, 0.757), (0.0645, 0.699), (0.0645, 0.6564)],
           left_total, (0.362, 0.8166), (0.0783, 0.9424), 4.6, 16,
           0.0189, 0.4877, 0.0286)

draw_panel((680.7, 580.7, 1091, 18.3), right_drops + right_drops_dense,
           right_flux_x, right_flux_p, right_dash_x,
           right_info, [(0.165, 0.835), (0.165, 0.772), (0.165, 0.714), (0.165, 0.656)],
           right_total, (0.418, 0.835), (0.1338, 0.9666), 4.42, 15.6,
           0.535, 0.9854, 0.067)

fig.savefig('out.png', dpi=100)
